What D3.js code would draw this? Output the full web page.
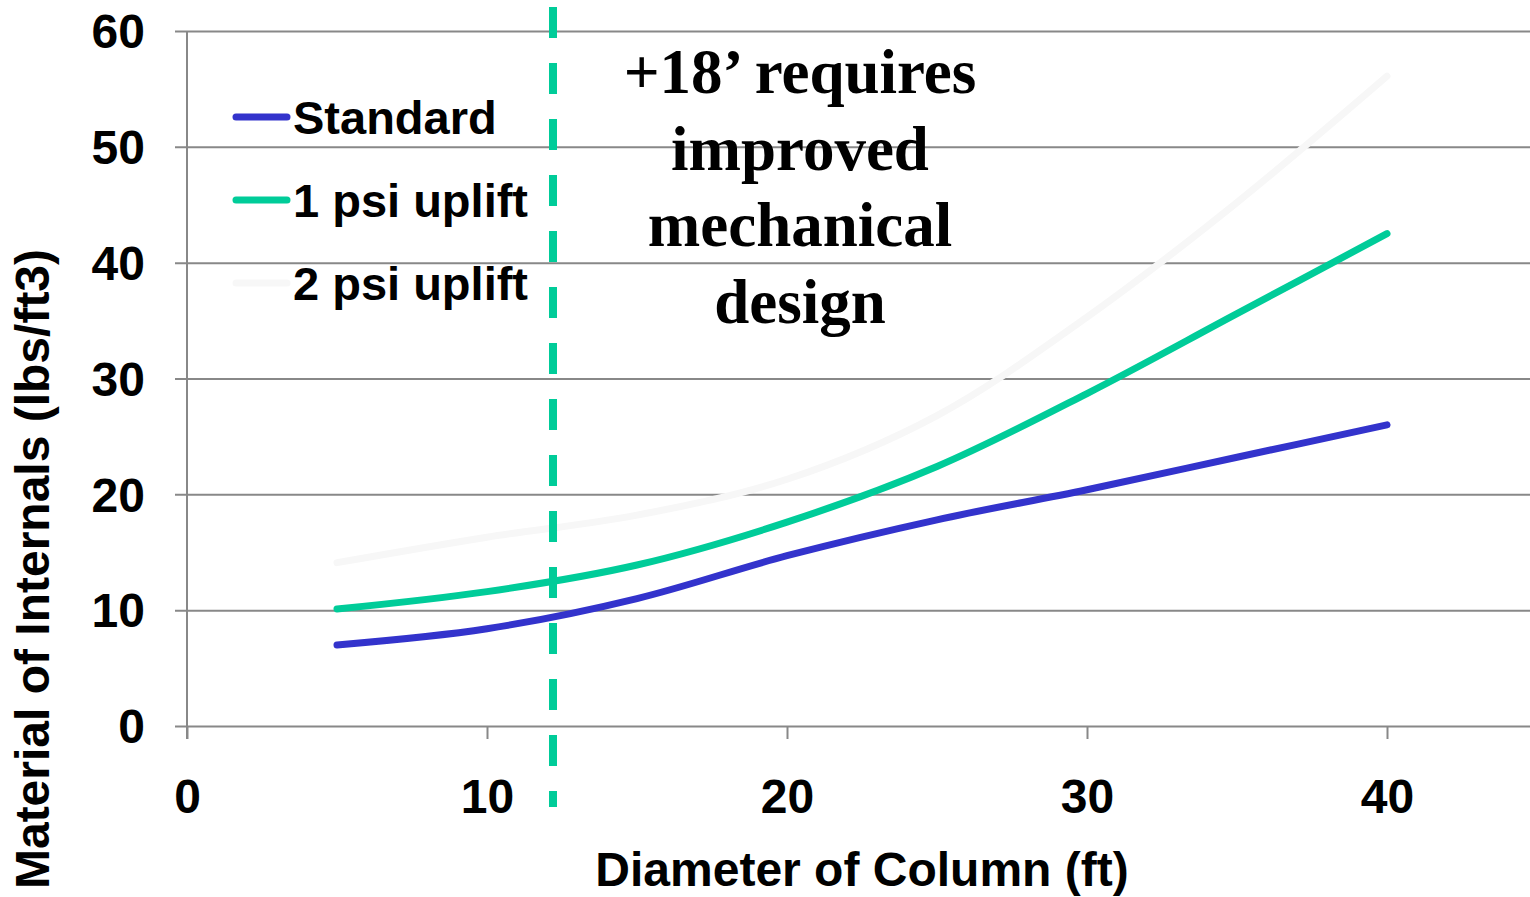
<!DOCTYPE html>
<html>
<head>
<meta charset="utf-8">
<script src="https://cdn.jsdelivr.net/npm/d3@7"></script>
<style>
  html, body { margin: 0; padding: 0; background: #fff; }
  svg { display: block; }
</style>
</head>
<body>
<svg id="chart" width="1530" height="897"></svg>
<script>
// data
const diameters = [5, 10, 15, 20, 25, 30, 35, 40];
const standard  = [7.0, 8.4, 11.0, 14.7, 17.8, 20.4, 23.2, 26.0];
const psi1      = [10.1, 11.6, 13.9, 17.6, 22.4, 28.7, 35.6, 42.5];
const psi2      = [14.1, 16.3, 18.2, 21.3, 26.8, 35.3, 45.2, 56.1];
const seriesNames = ['Standard', '1 psi uplift', '2 psi uplift'];
const xTicks = [0, 10, 20, 30, 40];
const yTicks = [0, 10, 20, 30, 40, 50, 60];
const designLimit = 12.2;
const noteLines = ['+18\u2019 requires', 'improved', 'mechanical', 'design'];

const colors = ['#3333cc', '#00cc99', '#f7f7f7'];
const gridColor = '#888888';
const sans = '"Liberation Sans", Arial, sans-serif';
const serif = '"Liberation Serif", "Times New Roman", serif';

const svg = d3.select('#chart');

const x = d3.scaleLinear().domain([0, 45]).range([187, 1537]);
const y = d3.scaleLinear().domain([0, 60]).range([726, 31]);

// horizontal gridlines
svg.append('g')
   .attr('transform', 'translate(175,0)')
   .call(d3.axisRight(y).tickValues(yTicks).tickSize(1537 - 175).tickFormat(''))
   .call(g => g.select('.domain').remove())
   .selectAll('line')
   .attr('stroke', gridColor)
   .attr('stroke-width', 2);

// y axis
let yAxis = svg.append('g')
   .attr('transform', `translate(${x(0)},0)`)
   .call(d3.axisLeft(y).tickValues(yTicks).tickSize(0).tickPadding(42));
yAxis.select('.domain')
   .attr('d', `M0,${y(60)}V${y(0) + 13}`)
   .attr('stroke', gridColor)
   .attr('stroke-width', 2);
yAxis.selectAll('text')
   .attr('font-family', sans)
   .attr('font-weight', 'bold')
   .attr('font-size', '48px')
   .attr('fill', '#000')
   .attr('dy', '0.35em');

// x axis
let xAxis = svg.append('g')
   .attr('transform', `translate(0,${y(0)})`)
   .call(d3.axisBottom(x).tickValues(xTicks).tickSize(13).tickPadding(0));
xAxis.select('.domain').remove();
xAxis.selectAll('line')
   .attr('stroke', gridColor)
   .attr('stroke-width', 2);
xAxis.selectAll('text')
   .attr('font-family', sans)
   .attr('font-weight', 'bold')
   .attr('font-size', '48px')
   .attr('fill', '#000')
   .attr('y', 87)
   .attr('dy', 0);

// axis titles
svg.append('text')
   .attr('x', 862)
   .attr('y', 886)
   .attr('text-anchor', 'middle')
   .attr('font-family', sans)
   .attr('font-weight', 'bold')
   .attr('font-size', '48px')
   .text('Diameter of Column (ft)');

svg.append('text')
   .attr('transform', 'translate(49,569) rotate(-90)')
   .attr('text-anchor', 'middle')
   .attr('font-family', sans)
   .attr('font-weight', 'bold')
   .attr('font-size', '48px')
   .text('Material of Internals (lbs/ft3)');

// series
const allSeries = [standard, psi1, psi2];
const line = d3.line()
   .x(d => x(d[0]))
   .y(d => y(d[1]))
   .curve(d3.curveCatmullRom.alpha(0.5));

// draw 2 psi first so the others sit on top
[2, 1, 0].forEach(i => {
  svg.append('path')
     .datum(diameters.map((dd, j) => [dd, allSeries[i][j]]))
     .attr('d', line)
     .attr('fill', 'none')
     .attr('stroke', colors[i])
     .attr('stroke-width', 7)
     .attr('stroke-linecap', 'round')
     .attr('stroke-linejoin', 'round');
});

// dashed design limit
svg.append('line')
   .attr('x1', x(designLimit))
   .attr('x2', x(designLimit))
   .attr('y1', 7)
   .attr('y2', 807)
   .attr('stroke', colors[1])
   .attr('stroke-width', 8)
   .attr('stroke-dasharray', '31 25');

// legend
const legendY = [117, 200, 283];
seriesNames.forEach((name, i) => {
  svg.append('line')
     .attr('x1', 236)
     .attr('x2', 287)
     .attr('y1', legendY[i])
     .attr('y2', legendY[i])
     .attr('stroke', colors[i])
     .attr('stroke-width', 7)
     .attr('stroke-linecap', 'round');
  svg.append('text')
     .attr('x', 293)
     .attr('y', legendY[i] + 17)
     .attr('font-family', sans)
     .attr('font-weight', 'bold')
     .attr('font-size', '47px')
     .text(name);
});

// annotation
svg.append('g')
   .selectAll('text')
   .data(noteLines)
   .enter()
   .append('text')
   .attr('x', 800)
   .attr('y', (d, i) => 93 + i * 76.5)
   .attr('text-anchor', 'middle')
   .attr('font-family', serif)
   .attr('font-weight', 'bold')
   .attr('font-size', '63px')
   .text(d => d);
</script>
</body>
</html>
